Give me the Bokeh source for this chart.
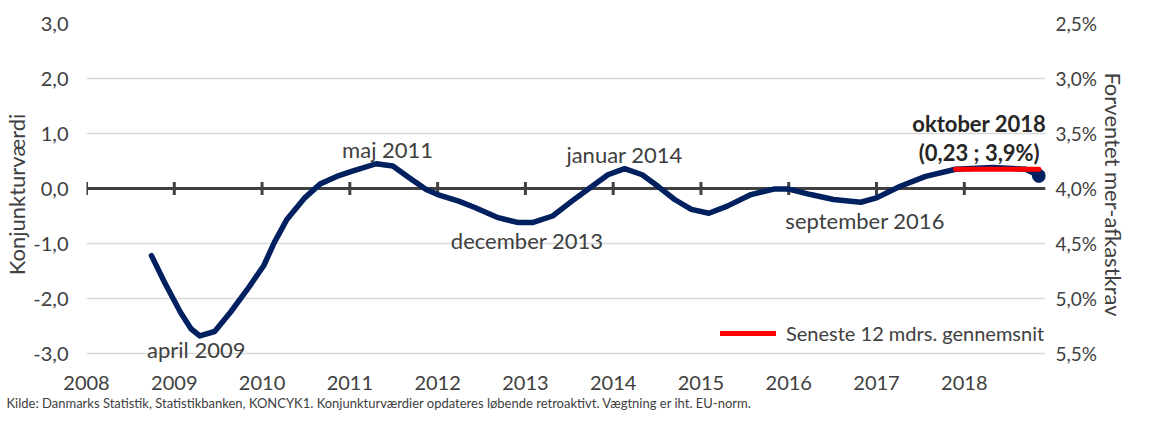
from bokeh.plotting import figure
from bokeh.models import (Range1d, LinearAxis, Label, Legend, LegendItem, Title,
                          FixedTicker, Span)
from bokeh.embed import file_html
from bokeh.resources import INLINE

# ---------------- data ----------------
date = [2008.74, 2008.89, 2009.07, 2009.19, 2009.29, 2009.46, 2009.64, 2009.83,
        2010.02, 2010.14, 2010.28, 2010.48, 2010.66, 2010.85, 2011.02, 2011.30,
        2011.49, 2011.68, 2011.87, 2012.00, 2012.24, 2012.43, 2012.69, 2012.92,
        2013.08, 2013.31, 2013.53, 2013.76, 2013.94, 2014.13, 2014.33, 2014.51,
        2014.70, 2014.89, 2015.09, 2015.30, 2015.57, 2015.83, 2016.00, 2016.25,
        2016.51, 2016.82, 2017.00, 2017.27, 2017.56, 2017.90, 2018.32, 2018.70,
        2018.85]
konjunktur = [-1.22, -1.71, -2.25, -2.55, -2.68, -2.60, -2.25, -1.84,
              -1.40, -0.98, -0.57, -0.18, 0.08, 0.22, 0.31, 0.45,
              0.41, 0.19, -0.02, -0.11, -0.23, -0.35, -0.53, -0.62,
              -0.62, -0.50, -0.23, 0.04, 0.25, 0.36, 0.25, 0.04,
              -0.20, -0.38, -0.45, -0.32, -0.11, -0.01, -0.01, -0.11,
              -0.20, -0.25, -0.17, 0.04, 0.22, 0.35, 0.38, 0.35,
              0.23]
avg_dates = [2017.90, 2018.85]
avg_value = [0.35, 0.35]
latest_date = [2018.85]
latest_value = [0.23]

year_ticks = [2008, 2009, 2010, 2011, 2012, 2013, 2014, 2015, 2016, 2017, 2018]
year_labels = ["2008", "2009", "2010", "2011", "2012", "2013", "2014", "2015",
               "2016", "2017", "2018"]
left_ticks = [-3, -2, -1, 0, 1, 2, 3]
left_tick_labels = ["-3,0", "-2,0", "-1,0", "0,0", "1,0", "2,0", "3,0"]
right_ticks = [2.5, 3.0, 3.5, 4.0, 4.5, 5.0, 5.5]
right_tick_labels = ["2,5%", "3,0%", "3,5%", "4,0%", "4,5%", "5,0%", "5,5%"]

point_labels = ["april 2009", "maj 2011", "december 2013", "januar 2014",
                "september 2016"]
point_label_x = [2009.25, 2011.43, 2013.02, 2014.13, 2016.87]
point_label_y = [-2.93, 0.71, -0.95, 0.62, -0.58]

latest_labels = ["oktober 2018", "(0,23 ; 3,9%)"]
latest_label_x = [2018.17, 2018.17]
latest_label_y = [1.18, 0.65]

legend_label = "Seneste 12 mdrs. gennemsnit"
source_text = ("Kilde: Danmarks Statistik, Statistikbanken, KONCYK1. Konjunkturværdier "
               "opdateres løbende retroaktivt. Vægtning er iht. EU-norm.")

# ---------------- layout / styling ----------------
FONT = "Lato"
TXT = "#404040"
NAVY = "#002060"
RED = "#FF0000"

PX_PER_UNIT = 55.0
FRAME_H = 342
Y_TOP = 3.0
Y_BOTTOM = Y_TOP - FRAME_H / PX_PER_UNIT          # a little room below -3,0
# right axis: 0 <-> 4,0 %, one unit <-> -0,5 %-point (inverted)
PCT_AT_ZERO, PCT_PER_UNIT = 4.0, -0.5

W, H = 1140, 415
TOP = 23

p = figure(width=W, height=H,
           x_range=Range1d(2008, 2018.925), y_range=Range1d(Y_BOTTOM, Y_TOP),
           output_backend="svg", toolbar_location=None,
           min_border_left=80, min_border_right=W - 80 - 965,
           min_border_top=TOP, min_border_bottom=H - TOP - FRAME_H,
           outline_line_color=None,
           background_fill_color="white", border_fill_color="white")

# left axis
ya = p.yaxis[0]
ya.ticker = FixedTicker(ticks=left_ticks)
ya.major_label_overrides = dict(zip(left_ticks, left_tick_labels))
ya.axis_label = "Konjunkturværdi"

# right axis
p.extra_y_ranges = {"pct": Range1d(start=PCT_AT_ZERO + PCT_PER_UNIT * Y_BOTTOM,
                                   end=PCT_AT_ZERO + PCT_PER_UNIT * Y_TOP)}
ra = LinearAxis(y_range_name="pct", ticker=FixedTicker(ticks=right_ticks),
                major_label_overrides=dict(zip(right_ticks, right_tick_labels)),
                axis_label="Forventet mer-afkastkrav")
p.add_layout(ra, "right")

# bottom axis
xa = p.xaxis[0]
xa.ticker = FixedTicker(ticks=year_ticks)
xa.major_label_overrides = dict(zip(year_ticks, year_labels))

for ax in (ya, ra, xa):
    ax.axis_line_color = None
    ax.major_tick_line_color = None
    ax.minor_tick_line_color = None
    ax.major_tick_out = 0
    ax.major_tick_in = 0
    ax.minor_tick_out = 0
    ax.minor_tick_in = 0
    ax.major_label_text_font = FONT
    ax.major_label_text_font_size = "20px"
    ax.major_label_text_color = TXT
    ax.axis_label_text_font = FONT
    ax.axis_label_text_font_size = "22px"
    ax.axis_label_text_font_style = "normal"
    ax.axis_label_text_color = TXT

ya.major_label_standoff = 18
ya.axis_label_standoff = 0
ra.major_label_text_font_size = "19px"
ra.axis_label_text_font_size = "22px"
ra.major_label_standoff = 10
ra.axis_label_standoff = 0
xa.major_label_standoff = 10

# grid
p.xgrid.visible = False
p.ygrid.ticker = FixedTicker(ticks=left_ticks)
p.ygrid.grid_line_color = "#D9D9D9"
p.ygrid.grid_line_width = 1.5

# zero line with year ticks
zero = Span(location=0, dimension="width", line_color="#404040", line_width=3,
            level="underlay")
p.add_layout(zero)
p.segment(x0=year_ticks, x1=year_ticks, y0=[-0.12] * len(year_ticks),
          y1=[0.12] * len(year_ticks), line_color="#404040", line_width=3,
          level="underlay")

# series
p.line(date, konjunktur, line_color=NAVY, line_width=5.5,
       line_cap="round", line_join="round")
p.scatter(latest_date, latest_value, size=13, color=NAVY)
r_avg = p.line(avg_dates, avg_value, line_color=RED, line_width=5,
               line_cap="round")

# annotations
for t, x, y in zip(point_labels, point_label_x, point_label_y):
    p.add_layout(Label(x=x, y=y, text=t, text_align="center",
                       text_baseline="middle", text_font=FONT,
                       text_font_size="22px", text_color=TXT))
for t, x, y in zip(latest_labels, latest_label_x, latest_label_y):
    p.add_layout(Label(x=x, y=y, text=t, text_align="center",
                       text_baseline="middle", text_font=FONT,
                       text_font_size="22px", text_font_style="bold",
                       text_color="#262626"))

legend = Legend(items=[LegendItem(label=legend_label, renderers=[r_avg])],
                location=(634, 20), padding=0, margin=0, spacing=0,
                glyph_width=56, glyph_height=20, label_standoff=10,
                label_text_font=FONT, label_text_font_size="20px",
                label_text_color=TXT, border_line_color=None,
                background_fill_alpha=0)
p.add_layout(legend)

src = Title(text=source_text, align="left", offset=-80, standoff=0,
            text_font=FONT, text_font_size="13px", text_font_style="normal",
            text_color=TXT)
p.add_layout(src, "below")

open("out.html", "w").write(file_html(p, INLINE))
